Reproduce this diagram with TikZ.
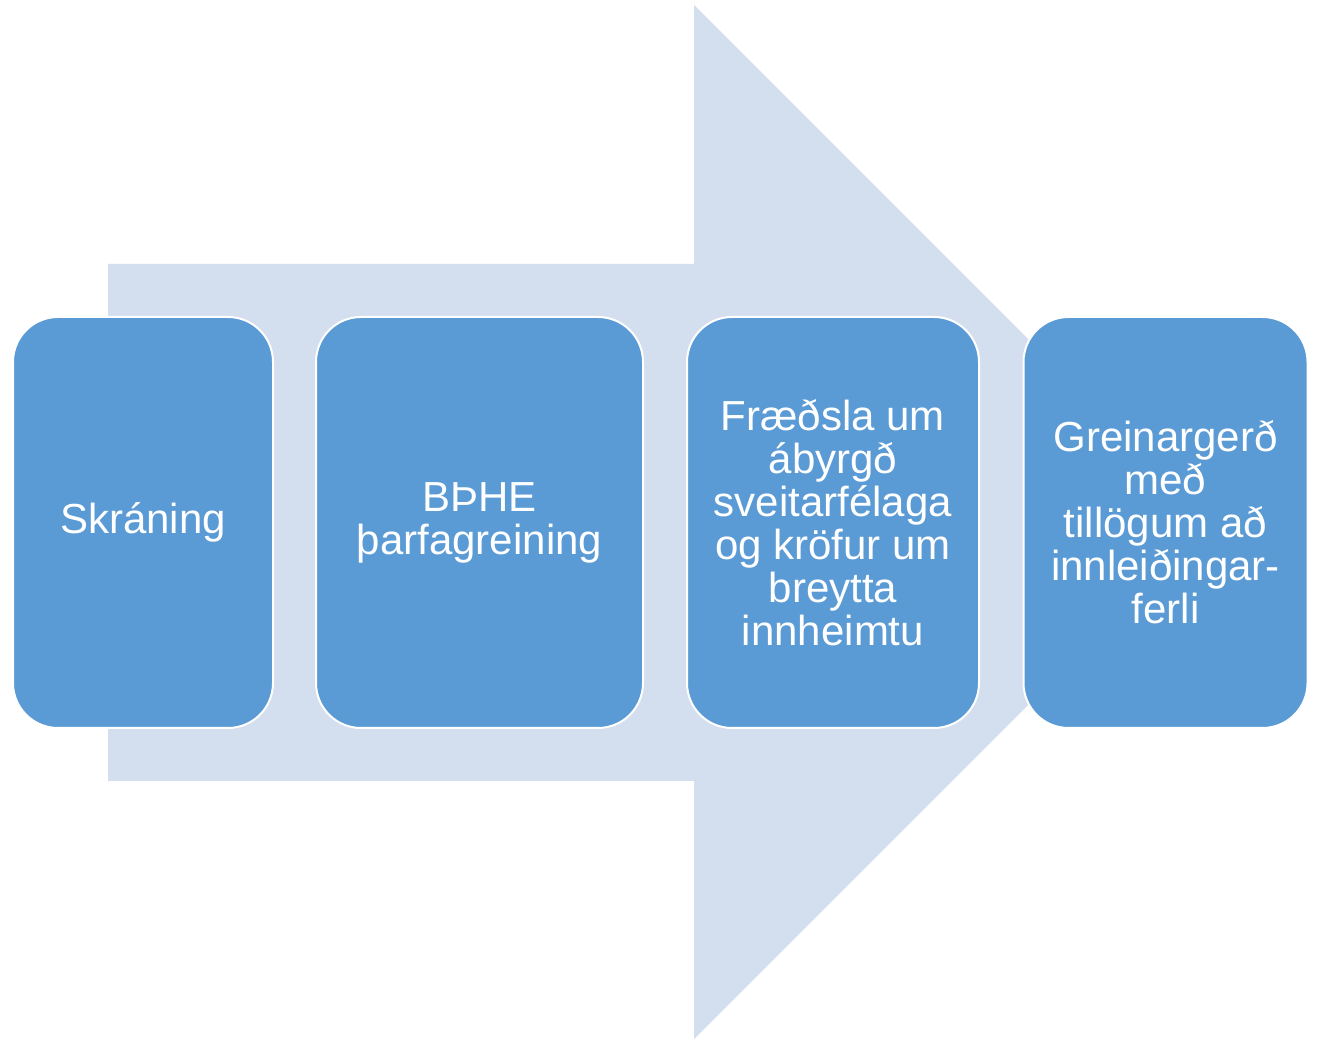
\documentclass[tikz,border=0pt]{standalone}
\usepackage{fontspec}
\setmainfont{Liberation Sans}
\definecolor{boxblue}{HTML}{5B9BD5}
\definecolor{arrowblue}{HTML}{D3DEEF}
\begin{document}
\begin{tikzpicture}[x=1pt,y=1pt,
  stepbox/.style={rectangle, rounded corners=45pt, draw=white, line width=2pt,
    fill=boxblue, text=white, align=center, minimum height=411pt,
    font=\fontsize{42}{43}\selectfont, inner sep=4pt}]
\useasboundingbox (0,0) rectangle (1317,1039);
\fill[white] (0,0) rectangle (1317,1039);
% big arrow
\fill[arrowblue] (108,258) -- (108,775) -- (694,775) -- (694,1034) -- (1211,517)
  -- (694,0) -- (694,258) -- cycle;
% boxes
\node[stepbox, minimum width=260pt] (b1) at (143,516.5) {Skráning};
\node[stepbox, minimum width=327pt] (b2) at (479.5,516.5) {BÞHE\\þarfagreining};
\node[stepbox, minimum width=292pt] (b3) at (833,516.5) {Fræðsla um\\ábyrgð\\sveitarfélaga\\og kröfur um\\breytta\\innheimtu};
\node[stepbox, minimum width=284pt] (b4) at (1165.5,516.5) {Greinargerð\\með\\tillögum að\\innleiðingar-\\ferli};
\end{tikzpicture}
\end{document}
